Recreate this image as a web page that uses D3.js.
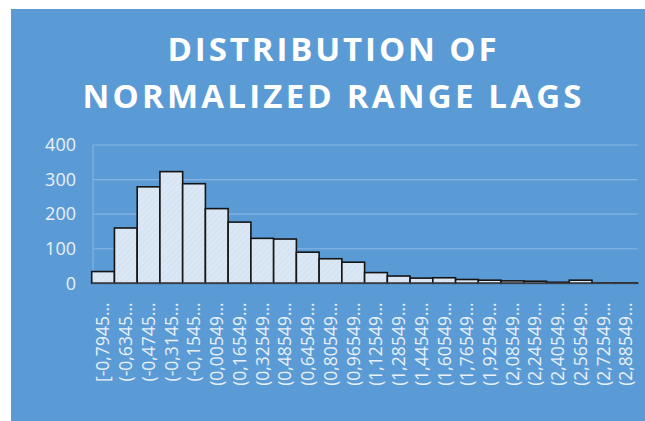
<!DOCTYPE html>
<html>
<head>
<meta charset="utf-8">
<script src="https://cdn.jsdelivr.net/npm/d3@7"></script>
<style>
  body { margin: 0; background: #ffffff; }
  svg { display: block; }
</style>
</head>
<body>
<div id="container"></div>
<script>
const width = 645;
const height = 421;

// data
const bins = ["[-0,7945...", "(-0,6345...", "(-0,4745...", "(-0,3145...", "(-0,1545...",
              "(0,00549...", "(0,16549...", "(0,32549...", "(0,48549...", "(0,64549...",
              "(0,80549...", "(0,96549...", "(1,12549...", "(1,28549...", "(1,44549...",
              "(1,60549...", "(1,76549...", "(1,92549...", "(2,08549...", "(2,24549...",
              "(2,40549...", "(2,56549...", "(2,72549...", "(2,88549..."];
const counts = [34, 160, 279, 323, 288, 216, 177, 130, 128, 90, 71, 61,
                31, 21, 15, 16, 11, 9, 7, 6, 3, 9, 1, 1];
const yTicks = [0, 100, 200, 300, 400];
const titleLines = ["DISTRIBUTION OF", "NORMALIZED RANGE LAGS"];

const svg = d3.select("div#container").append("svg")
    .attr("width", width)
    .attr("height", height);

// hatched light fill like the excel bars
const defs = svg.append("defs");
const pat = defs.append("pattern")
    .attr("id", "hatch")
    .attr("patternUnits", "userSpaceOnUse")
    .attr("width", 4)
    .attr("height", 4)
    .attr("patternTransform", "rotate(45)");
pat.append("rect").attr("width", 4).attr("height", 4).attr("fill", "#dbe7f4");
pat.append("line")
    .attr("x1", 0).attr("y1", 0).attr("x2", 0).attr("y2", 4)
    .attr("stroke", "#c9dbee").attr("stroke-width", 1);

svg.append("rect")
    .attr("x", 11).attr("y", 9)
    .attr("width", width - 11).attr("height", height - 9)
    .attr("fill", "#5b9bd5");

// title
const title = svg.append("g").attr("fill", "#ffffff")
    .style("font-family", "'Open Sans', sans-serif")
    .style("font-weight", "bold")
    .style("font-size", "33px");
const titleY = [61, 108];
const titleW = [329, 499];
titleLines.forEach(function(t, i) {
    title.append("text")
        .attr("x", 332)
        .attr("y", titleY[i])
        .attr("text-anchor", "middle")
        .attr("textLength", titleW[i])
        .attr("lengthAdjust", "spacing")
        .text(t);
});

const plot = {left: 91.7, right: 637.5, top: 145, bottom: 283.3};

const xScale = d3.scaleBand()
    .domain(bins)
    .range([plot.left, plot.right])
    .padding(0);

const yScale = d3.scaleLinear()
    .domain([0, 400])
    .range([plot.bottom, plot.top]);

// gridlines
svg.append("g")
    .selectAll("line")
    .data(yTicks.slice(1))
    .enter().append("line")
    .attr("x1", 93).attr("x2", plot.right)
    .attr("y1", function(d) { return yScale(d); })
    .attr("y2", function(d) { return yScale(d); })
    .attr("stroke", "#86b5e2")
    .attr("stroke-width", 1.2);

svg.append("line")
    .attr("x1", 93).attr("x2", 93)
    .attr("y1", plot.top).attr("y2", plot.bottom)
    .attr("stroke", "#86b5e2")
    .attr("stroke-width", 1);

// y axis
const yaxis = d3.axisLeft(yScale).tickValues(yTicks).tickSize(0).tickPadding(0);
const yg = svg.append("g")
    .attr("transform", "translate(76,0)")
    .call(yaxis);
yg.select(".domain").remove();
yg.selectAll("text")
    .attr("fill", "#e9f0f8")
    .style("font-family", "'Open Sans', sans-serif")
    .style("font-size", "18px");

// bars
svg.append("g")
    .selectAll("rect")
    .data(counts)
    .enter().append("rect")
    .attr("x", function(d, i) { return xScale(bins[i]); })
    .attr("y", function(d) { return yScale(d); })
    .attr("width", xScale.bandwidth())
    .attr("height", function(d) { return yScale(0) - yScale(d); })
    .attr("fill", "url(#hatch)")
    .attr("stroke", "#141414")
    .attr("stroke-width", 1.6);

// x axis line + rotated labels
svg.append("line")
    .attr("x1", plot.left).attr("x2", plot.right)
    .attr("y1", plot.bottom).attr("y2", plot.bottom)
    .attr("stroke", "#3a3f47")
    .attr("stroke-width", 1.6);

const xaxis = d3.axisBottom(xScale).tickSize(0).tickPadding(0);
const xg = svg.append("g")
    .attr("transform", "translate(0," + plot.bottom + ")")
    .call(xaxis);
xg.select(".domain").remove();
xg.selectAll("text")
    .attr("fill", "#e9f0f8")
    .style("font-family", "'Open Sans', sans-serif")
    .style("font-size", "17.5px")
    .attr("text-anchor", "end")
    .attr("x", 0)
    .attr("y", 0)
    .attr("dy", "0.36em")
    .attr("transform", "translate(0,19) rotate(-90)");
</script>
</body>
</html>
